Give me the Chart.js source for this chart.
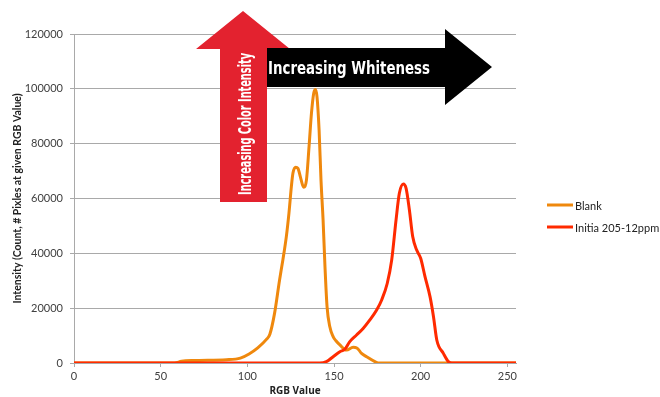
<!DOCTYPE html>
<html>
<head>
<meta charset="utf-8">
<script src="https://cdn.jsdelivr.net/npm/chart.js@4"></script>
<style>
  html, body { margin: 0; padding: 0; background: #fff; }
  #wrap { width: 660px; height: 397px; }
</style>
</head>
<body>
<div id="wrap"><canvas id="myChart" width="660" height="397"></canvas></div>
<script>
// Histogram of pixel intensity - Blank vs Initia 205-12ppm

const seriesNames = ["Blank", "Initia 205-12ppm"];
const seriesColors = ["#ef880d", "#ff2a00"];

const rgbBlank = [0, 58, 62, 69, 88, 96, 101, 106, 111, 113, 115.7, 118.6, 120.5, 122.5, 124, 125.4, 126.3, 127.9, 129.2, 130.6, 132.5, 134.1, 135.6, 137, 138.3, 139.3, 140.2, 141.4, 142.5, 143.7, 144.8, 146, 147.6, 149.5, 151, 153.4, 157.2, 161, 163.4, 165.9, 168.8, 173.6, 175.5, 255];
const countBlank = [0, 0, 600, 900, 1200, 1800, 3300, 5500, 8600, 10500, 18100, 30300, 37600, 46100, 54600, 64300, 69200, 71400, 71000, 67900, 64100, 66700, 78900, 91100, 98400, 99800, 97100, 85000, 66700, 52200, 35100, 20500, 13200, 9600, 8200, 6600, 4700, 5700, 5400, 3500, 2300, 500, 0, 0];

const rgbInitia = [0, 141.8, 145.6, 149.5, 153.4, 156.2, 159.1, 163, 166.8, 170.7, 174.6, 177.5, 180.7, 183.3, 185.8, 187.7, 190, 191.6, 193.5, 195.4, 197.7, 200, 202.5, 205.4, 207.4, 209.3, 213.1, 216, 218, 255];
const countInitia = [0, 0, 500, 2300, 4100, 5000, 7800, 10200, 12600, 15700, 19300, 23000, 29000, 37600, 52200, 61900, 65300, 63700, 55800, 46100, 41200, 38200, 31500, 24200, 16900, 8400, 3500, 500, 0, 0];

const xTicks = [0, 50, 100, 150, 200, 250];
const yTicks = [0, 20000, 40000, 60000, 80000, 100000, 120000];

const toPoints = (xs, ys) => xs.map((x, i) => ({ x: x, y: ys[i] }));

const fontFamily = "Lato, 'Open Sans', sans-serif";
const titleFamily = "'Open Sans', Lato, sans-serif";
const gridColor = "#a9a9a9";

// arrows + legend drawn on top
const annotations = {
    id: "annotations",
    afterDraw(chart) {
        const ctx = chart.ctx;
        ctx.save();

        // red up arrow
        ctx.fillStyle = "#e3222f";
        ctx.beginPath();
        ctx.moveTo(243, 11);
        ctx.lineTo(290, 49);
        ctx.lineTo(267, 49);
        ctx.lineTo(267, 202);
        ctx.lineTo(220, 202);
        ctx.lineTo(220, 49);
        ctx.lineTo(196, 49);
        ctx.closePath();
        ctx.fill();

        // black right arrow
        ctx.fillStyle = "#000";
        ctx.beginPath();
        ctx.moveTo(267, 48);
        ctx.lineTo(445, 48);
        ctx.lineTo(445, 29);
        ctx.lineTo(492, 67);
        ctx.lineTo(445, 105);
        ctx.lineTo(445, 87);
        ctx.lineTo(267, 87);
        ctx.closePath();
        ctx.fill();

        ctx.fillStyle = "#fff";
        ctx.font = "bold 17px 'Liberation Sans Narrow', 'DejaVu Sans Condensed', Roboto, sans-serif";
        ctx.textAlign = "left";
        ctx.textBaseline = "alphabetic";
        ctx.fillText("Increasing Whiteness", 268, 74, 162);

        ctx.save();
        ctx.translate(251, 195);
        ctx.rotate(-Math.PI / 2);
        ctx.fillText("Increasing Color Intensity", 0, 0, 142);
        ctx.restore();

        // legend
        ctx.font = "11px " + fontFamily;
        ctx.textBaseline = "middle";
        seriesNames.forEach((name, i) => {
            const y = 205 + 22 * i;
            ctx.strokeStyle = seriesColors[i];
            ctx.lineWidth = 3;
            ctx.beginPath();
            ctx.moveTo(547, y);
            ctx.lineTo(573, y);
            ctx.stroke();
            ctx.fillStyle = "#222";
            ctx.fillText(name, 575, y + 1);
        });

        ctx.restore();
    }
};

new Chart(document.getElementById("myChart"), {
    type: "line",
    data: {
        datasets: [{
            label: seriesNames[0],
            data: toPoints(rgbBlank, countBlank),
            borderColor: seriesColors[0],
            backgroundColor: seriesColors[0],
            borderWidth: 3,
            pointRadius: 0,
            cubicInterpolationMode: "monotone",
            order: 1
        }, {
            label: seriesNames[1],
            data: toPoints(rgbInitia, countInitia),
            borderColor: seriesColors[1],
            backgroundColor: seriesColors[1],
            borderWidth: 3,
            pointRadius: 0,
            cubicInterpolationMode: "monotone",
            order: 0
        }]
    },
    options: {
        responsive: false,
        animation: false,
        layout: { padding: { left: 0, right: 144, top: 34, bottom: 0 } },
        plugins: {
            legend: { display: false },
            tooltip: { enabled: false }
        },
        scales: {
            x: {
                type: "linear",
                min: 0,
                max: 255,
                afterFit: (scale) => { scale.height = 34; },
                afterBuildTicks: (scale) => { scale.ticks = xTicks.map(v => ({ value: v })); },
                ticks: { color: "#404040", font: { family: fontFamily, size: 11 }, padding: 3, maxRotation: 0 },
                grid: { drawOnChartArea: false, drawTicks: true, tickLength: 4, color: gridColor },
                border: { color: gridColor },
                title: {
                    display: true,
                    text: "RGB Value",
                    color: "#222",
                    font: { family: titleFamily, size: 10, weight: "bold" },
                    padding: { top: 0, bottom: 0 }
                }
            },
            y: {
                min: 0,
                max: 120000,
                afterFit: (scale) => { scale.width = 74; },
                afterBuildTicks: (scale) => { scale.ticks = yTicks.map(v => ({ value: v })); },
                ticks: { color: "#404040", font: { family: fontFamily, size: 11 }, padding: 7, callback: (v) => String(v) },
                grid: { color: gridColor, tickLength: 4 },
                border: { color: gridColor },
                title: {
                    display: true,
                    text: "Intensity (Count, # Pixles at given RGB Value)",
                    color: "#222",
                    font: { family: fontFamily, size: 10.5, weight: "bold" },
                    padding: { top: 11, bottom: 0 }
                }
            }
        }
    },
    plugins: [annotations]
});
</script>
</body>
</html>
